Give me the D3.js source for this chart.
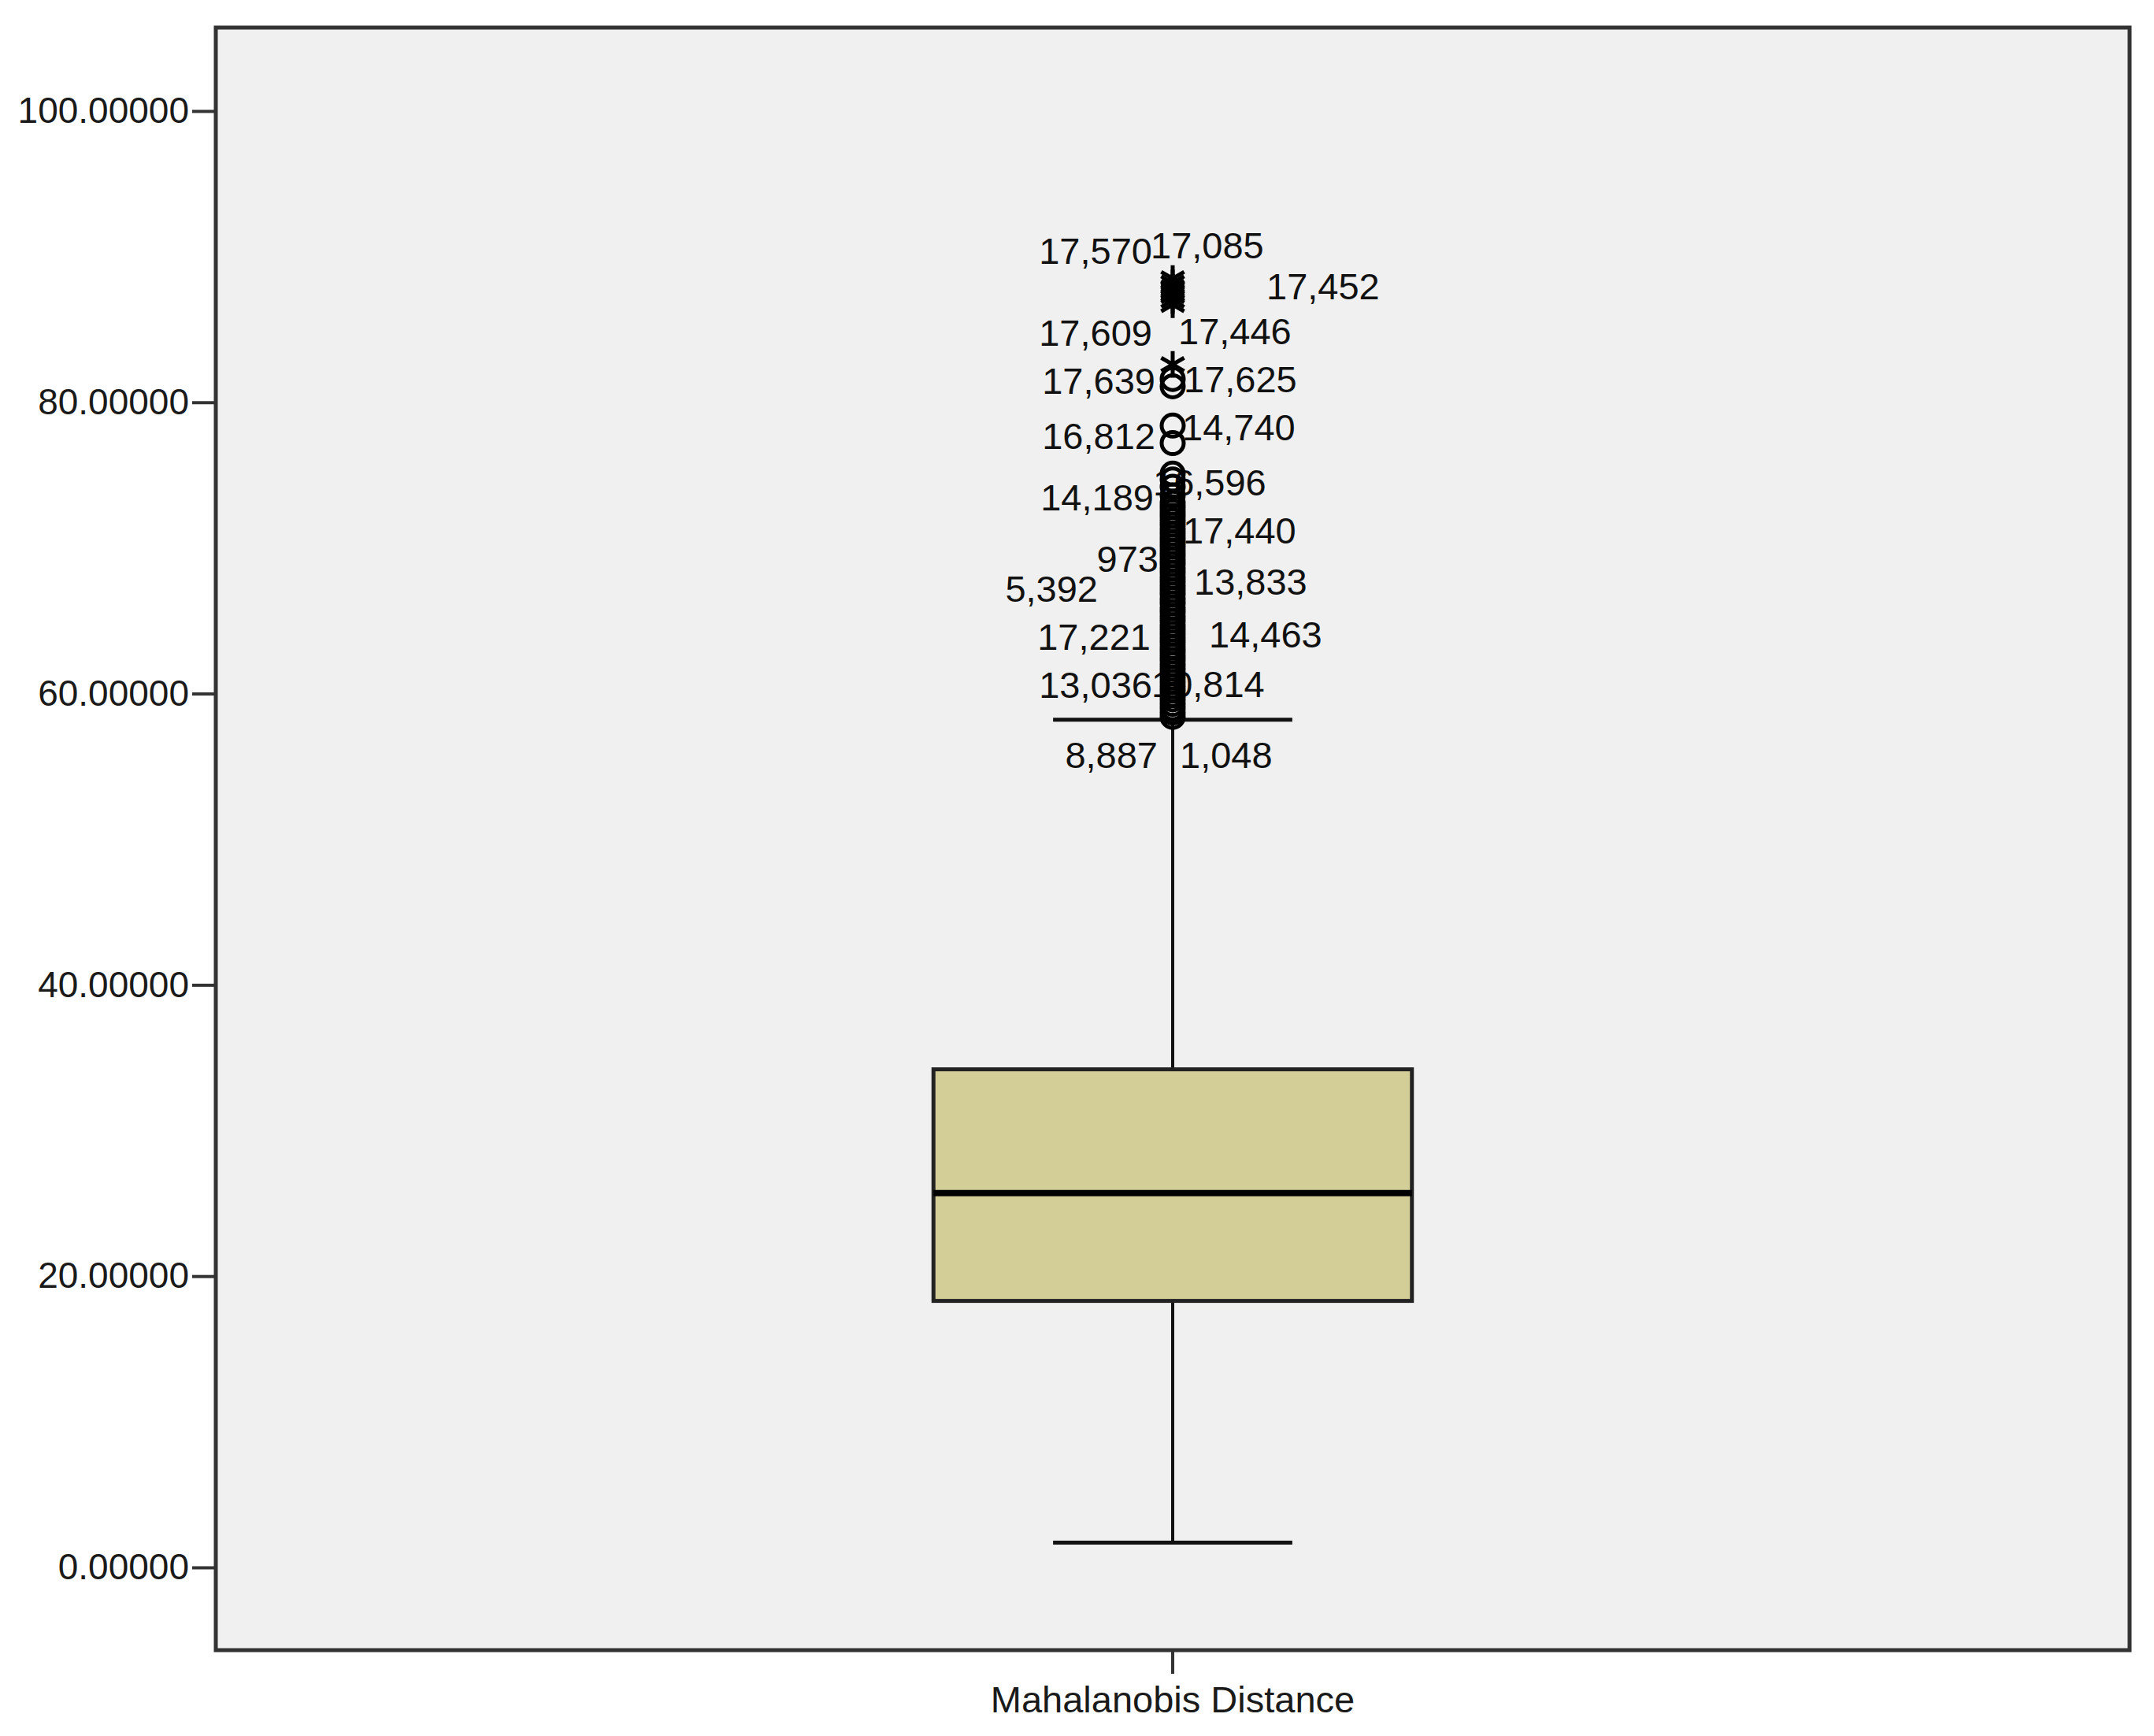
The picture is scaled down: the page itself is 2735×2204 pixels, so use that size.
<!DOCTYPE html>
<html>
<head>
<meta charset="utf-8">
<script src="https://cdn.jsdelivr.net/npm/d3@7"></script>
<style>
  body { margin: 0; background: #fff; }
  text { font-family: "Liberation Sans", Arial, sans-serif; }
</style>
</head>
<body>
<svg id="viz"></svg>
<script>
var width = 2735;
var height = 2204;

// data
var categories = ["Mahalanobis Distance"];
var boxStats = { low: 1.7, q1: 18.3, median: 25.7, q3: 34.2, high: 58.2 };
var yTicks = [0, 20, 40, 60, 80, 100];

// circles (outliers) and stars (extremes)
var outlierValues = [81.6, 81.1, 78.4, 77.2, 75.1, 74.7, 74.2, 73.6,
    73.1, 72.8, 72.5, 72.2, 71.9, 71.6, 71.3, 71.0, 70.7, 70.4, 70.1, 69.8,
    69.5, 69.2, 68.9, 68.6, 68.3, 68.0, 67.7, 67.4, 67.1, 66.8, 66.5, 66.2,
    65.9, 65.6, 65.3, 65.0, 64.7, 64.4, 64.1, 63.8, 63.5, 63.2, 62.9, 62.6,
    62.3, 62.0, 61.7, 61.4, 61.1, 60.8, 60.5, 60.2, 59.9, 59.6, 59.3, 59.0,
    58.7, 58.4];
var extremeValues = [88.5, 88.2, 87.9, 87.6, 87.3, 87.0, 86.7, 82.6];

// case labels and the value they sit at
var caseLabels = ["17,570", "17,085", "17,452", "17,609", "17,446", "17,639",
    "17,625", "16,812", "14,740", "14,189", "16,596", "17,440", "973", "5,392",
    "13,833", "17,221", "14,463", "13,036", "10,814", "8,887", "1,048"];
var caseLabelValues = [90.4, 90.8, 88.0, 84.8, 84.9, 81.5,
    81.6, 77.7, 78.3, 73.5, 74.5, 71.2, 69.3, 67.2,
    67.7, 63.9, 64.1, 60.6, 60.7, 55.8, 55.8];

// label layout: side and horizontal offset from the box centre (px)
var labelSide = ["L", "R", "R", "L", "R", "L", "R", "L", "R", "L", "R", "R",
    "L", "L", "R", "L", "R", "L", "R", "L", "R"];
var labelDx = [-26, -28, 119, -26, 7, -22, 14, -22, 12, -24, -25, 13,
    -18, -95, 27, -28, 46, -26, -27, -19, 9];

var frame = { left: 274, top: 35, right: 2704, bottom: 2095 };

var svg = d3.select("#viz")
    .attr("width", width)
    .attr("height", height);

var y = d3.scaleLinear()
    .domain([-5.68, 105.73])
    .range([frame.bottom, frame.top]);

var x = d3.scaleBand()
    .domain(categories)
    .range([frame.left, frame.right])
    .padding(0);

var cx = x(categories[0]) + x.bandwidth() / 2;
var boxW = x.bandwidth() * 0.25;

// plot background
svg.append("rect")
    .attr("x", frame.left)
    .attr("y", frame.top)
    .attr("width", frame.right - frame.left)
    .attr("height", frame.bottom - frame.top)
    .attr("fill", "#f0f0f0")
    .attr("stroke", "#333")
    .attr("stroke-width", 5);

// y axis
var yAxis = svg.append("g")
    .attr("transform", "translate(" + frame.left + ",0)")
    .call(d3.axisLeft(y).tickValues(yTicks)
        .tickSize(30).tickPadding(4)
        .tickFormat(d3.format(".5f")));
yAxis.select(".domain").remove();
yAxis.selectAll(".tick line").attr("stroke", "#333").attr("stroke-width", 4);
yAxis.selectAll(".tick text")
    .attr("font-size", 46)
    .attr("fill", "#1a1a1a")
    .attr("font-family", "Liberation Sans, Arial, sans-serif");

// x axis
var xAxis = svg.append("g")
    .attr("transform", "translate(0," + frame.bottom + ")")
    .call(d3.axisBottom(x).tickSize(30).tickPadding(16));
xAxis.select(".domain").remove();
xAxis.selectAll(".tick line").attr("stroke", "#333").attr("stroke-width", 4);
xAxis.selectAll(".tick text")
    .attr("font-size", 47)
    .attr("fill", "#1a1a1a")
    .attr("font-family", "Liberation Sans, Arial, sans-serif");

var g = svg.append("g");

// whiskers
g.append("line")
    .attr("x1", cx).attr("x2", cx)
    .attr("y1", y(boxStats.q3)).attr("y2", y(boxStats.high))
    .attr("stroke", "#111").attr("stroke-width", 4);
g.append("line")
    .attr("x1", cx).attr("x2", cx)
    .attr("y1", y(boxStats.q1)).attr("y2", y(boxStats.low))
    .attr("stroke", "#111").attr("stroke-width", 4);
[boxStats.high, boxStats.low].forEach(function(v) {
    g.append("line")
        .attr("x1", cx - boxW / 4).attr("x2", cx + boxW / 4)
        .attr("y1", y(v)).attr("y2", y(v))
        .attr("stroke", "#111").attr("stroke-width", 5);
});

// box
g.append("rect")
    .attr("x", cx - boxW / 2)
    .attr("y", y(boxStats.q3))
    .attr("width", boxW)
    .attr("height", y(boxStats.q1) - y(boxStats.q3))
    .attr("fill", "#d3ce98")
    .attr("stroke", "#222")
    .attr("stroke-width", 5);
g.append("line")
    .attr("x1", cx - boxW / 2).attr("x2", cx + boxW / 2)
    .attr("y1", y(boxStats.median)).attr("y2", y(boxStats.median))
    .attr("stroke", "#000").attr("stroke-width", 8);

// case labels (drawn under the markers)
g.selectAll(".caselabel")
    .data(caseLabels)
    .enter().append("text")
    .attr("class", "caselabel")
    .attr("x", function(d, i) { return cx + labelDx[i]; })
    .attr("y", function(d, i) { return y(caseLabelValues[i]); })
    .attr("dy", "0.36em")
    .attr("text-anchor", function(d, i) { return labelSide[i] === "L" ? "end" : "start"; })
    .attr("font-size", 47)
    .attr("fill", "#111")
    .text(function(d) { return d; });

// outliers
g.selectAll(".outlier")
    .data(outlierValues)
    .enter().append("circle")
    .attr("class", "outlier")
    .attr("cx", cx)
    .attr("cy", function(d) { return y(d); })
    .attr("r", 14)
    .attr("fill", "none")
    .attr("stroke", "#000")
    .attr("stroke-width", 5);

// extremes
var star = d3.symbol().type(d3.symbolAsterisk).size(800);
g.selectAll(".extreme")
    .data(extremeValues)
    .enter().append("path")
    .attr("class", "extreme")
    .attr("d", star)
    .attr("transform", function(d) { return "translate(" + cx + "," + y(d) + ")"; })
    .attr("fill", "none")
    .attr("stroke", "#000")
    .attr("stroke-width", 5);
</script>
</body>
</html>
